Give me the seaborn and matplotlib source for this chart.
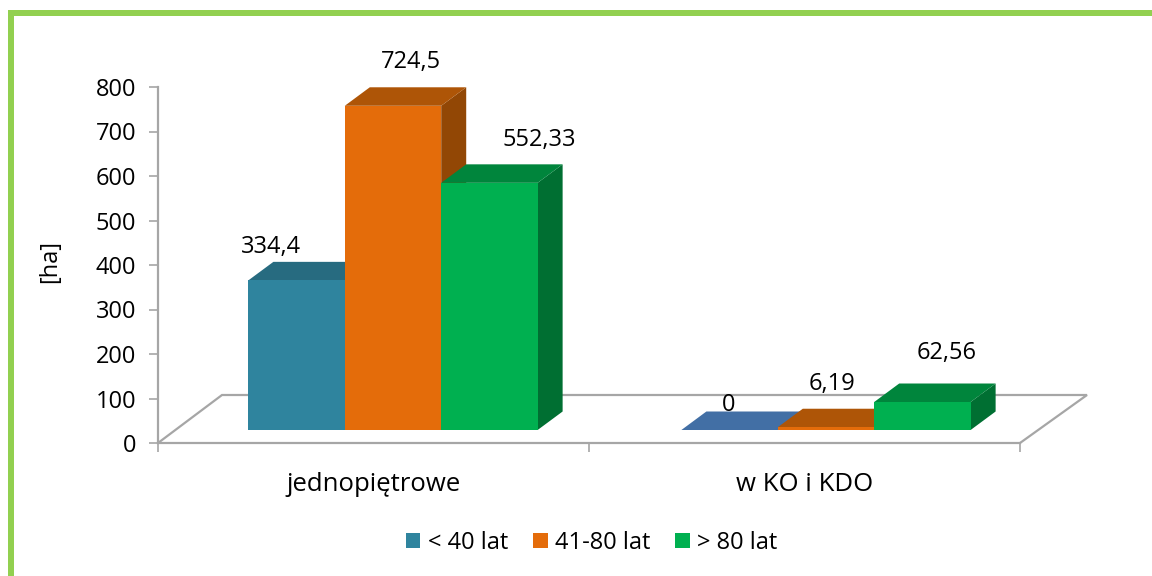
import matplotlib
matplotlib.use("Agg")
import matplotlib.pyplot as plt
import seaborn as sns
import pandas as pd
from matplotlib.patches import Polygon, Rectangle
from matplotlib.lines import Line2D
from matplotlib.transforms import IdentityTransform

categories = ["jednopiętrowe", "w KO i KDO"]
age_groups = ["< 40 lat", "41-80 lat", "> 80 lat"]
values_under_40 = [334.4, 0]
values_41_80 = [724.5, 6.19]
values_over_80 = [552.33, 62.56]
value_labels = [["334,4", "0"], ["724,5", "6,19"], ["552,33", "62,56"]]
y_ticks = [0, 100, 200, 300, 400, 500, 600, 700, 800]
y_label = "[ha]"

front_colors = ["#2F849E", "#E46C0A", "#00B050"]
top_colors = [["#276B80", "#426FA5"], ["#AE5507", "#AE5507"], ["#00853C", "#00853C"]]
side_colors = [["#226070", "#36608F"], ["#924705", "#924705"], ["#006F32", "#006F32"]]
label_offsets = [[(-26, 33), (-1, 25)], [(18, 44), (6, 43)], [(50, 43), (24, 49)]]

W, H = 1152, 576
GRID = "#A6A6A6"
sns.set_theme(style="white")
plt.rcParams["font.family"] = ["Open Sans", "DejaVu Sans"]
FS = 17
FS_CAT = 18.5

df = pd.DataFrame({
    "kategoria": categories * 3,
    "wiek": [a for a in age_groups for _ in categories],
    "ha": values_under_40 + values_41_80 + values_over_80,
})

fig = plt.figure(figsize=(W / 100, H / 100), dpi=100, facecolor="white")


def ibox(left, top, right, bottom):
    return [left / W, 1 - bottom / H, (right - left) / W, (bottom - top) / H]


# frame
fig.add_artist(Rectangle((8 / W, 0), 5.5 / W, 1 - 10 / H, transform=fig.transFigure, color="#92D050", lw=0))
fig.add_artist(Rectangle((8 / W, 1 - 16 / H), 1 - 8 / W, 6 / H, transform=fig.transFigure, color="#92D050", lw=0))

# axis frame
ax = fig.add_axes(ibox(158, 87, 1020, 443), facecolor="none")
ax.set_xlim(-0.5, 1.5)
ax.set_ylim(0, 800)
ax.set_yticks(y_ticks)
ax.set_xticks([-0.5, 0.5, 1.5])
ax.set_xticklabels([])
ax.set_xticks([0, 1], labels=categories, minor=True)
ax.tick_params(axis="both", which="major", length=6.5, width=1.2, color=GRID, labelsize=FS, labelcolor="black", pad=9,
               left=True, bottom=True)
ax.tick_params(axis="x", which="minor", length=0, labelsize=FS_CAT, labelcolor="black", pad=21, bottom=True)
for s in ("top", "right"):
    ax.spines[s].set_visible(False)
for s in ("left", "bottom"):
    ax.spines[s].set_color(GRID)
    ax.spines[s].set_linewidth(1.6)
ax.set_ylabel(y_label, fontsize=FS, color="black")
ax.yaxis.set_label_coords((62 - 158) / 862, 0.51)

# floor
floor_px = [(158, 443), (222, 395), (1087, 395), (1020, 443)]
fig.add_artist(Line2D([p[0] / W for p in floor_px], [1 - p[1] / H for p in floor_px],
                      transform=fig.transFigure, color=GRID, lw=1.6, solid_joinstyle="miter", zorder=-1))

# bars
bx = fig.add_axes(ibox(176.5, 72, 1042.5, 430), facecolor="none")
sns.barplot(data=df, x="kategoria", y="ha", hue="wiek", hue_order=age_groups, order=categories,
            palette=front_colors, width=0.668, gap=0, saturation=1, errorbar=None, ax=bx, linewidth=0)
bx.set_xlim(-0.5, 1.5)
bx.set_ylim(0, 800)
bx.set_axis_off()

DX, DY = 25, 18.5
for i, cont in enumerate(bx.containers):
    for j, bar in enumerate(cont):
        x0, y0 = bx.transData.transform((bar.get_x(), 0))
        x1, y1 = bx.transData.transform((bar.get_x() + bar.get_width(), bar.get_height()))
        z = 2 + (i + 3 * j) * 2
        bar.set_zorder(z + 1)
        top = [(x0, y1), (x1, y1), (x1 + DX, y1 + DY), (x0 + DX, y1 + DY)]
        side = [(x1, y0), (x1 + DX, y0 + DY), (x1 + DX, y1 + DY), (x1, y1)]
        if bar.get_height() > 20:
            bx.add_patch(Polygon(side, closed=True, transform=IdentityTransform(), color=side_colors[i][j], lw=0,
                                 zorder=z, clip_on=False))
        bx.add_patch(Polygon(top, closed=True, transform=IdentityTransform(), color=top_colors[i][j], lw=0,
                             zorder=z, clip_on=False))
        dx, dy = label_offsets[i][j]
        bx.annotate(value_labels[i][j], xy=(bar.get_x() + bar.get_width() / 2, bar.get_height()),
                    xytext=(dx, dy), textcoords="offset pixels", ha="center", va="center",
                    fontsize=FS, color="black", zorder=100, annotation_clip=False)

sns.move_legend(bx, "center", bbox_to_anchor=(591.5 / W, 1 - 543 / H), bbox_transform=fig.transFigure,
                ncol=3, frameon=False, title=None, fontsize=FS, handlelength=0.63, handleheight=0.63,
                handletextpad=0.3, columnspacing=1.06, borderpad=0, labelcolor="black")

fig.savefig("out.png", dpi=100, facecolor="white")
